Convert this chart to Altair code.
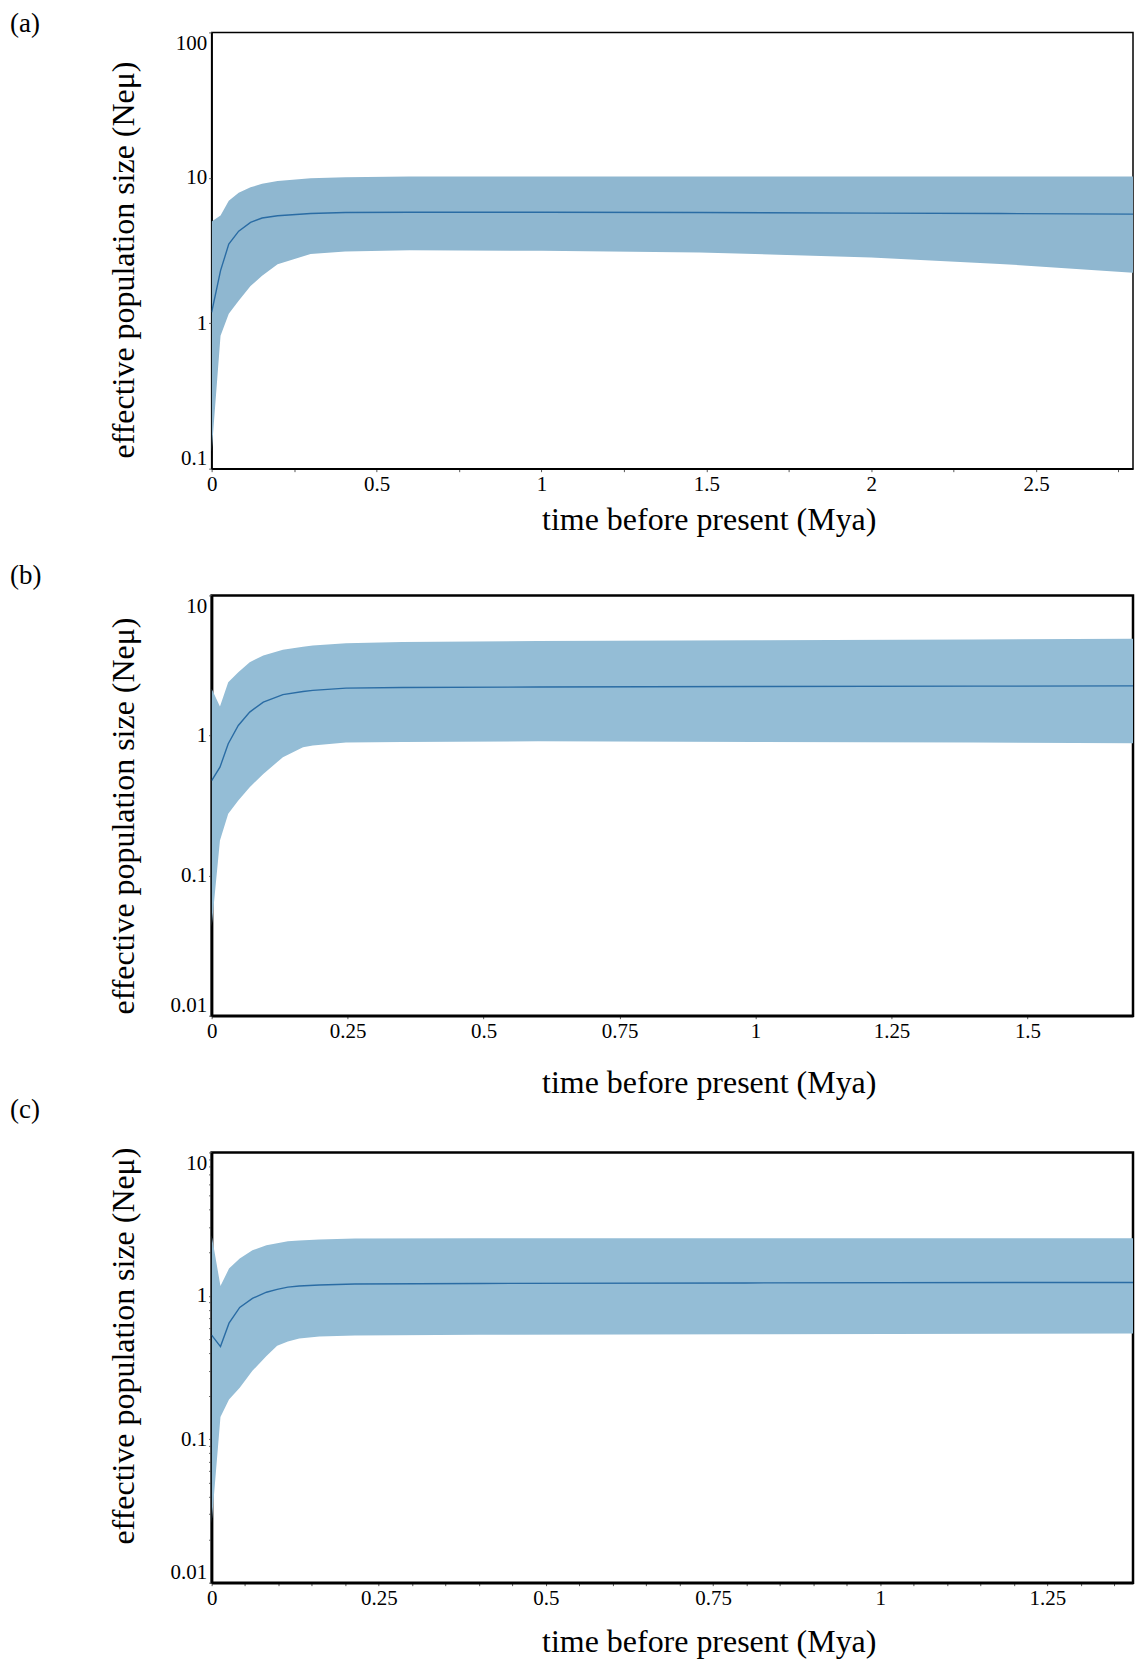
import altair as alt
import pandas as pd

FONT = "Liberation Serif"
X_TITLE = "time before present (Mya)"
Y_TITLE = "effective population size (Neμ)"

# ---------------- panel (a) ----------------
a_time = [0, 0.027, 0.052, 0.082, 0.118, 0.153, 0.2, 0.3, 0.405, 0.6, 1.0, 1.48, 2.0, 2.39, 2.82]
a_upper = [5.0, 5.5, 6.95, 7.9, 8.6, 9.1, 9.5, 9.95, 10.1, 10.2, 10.2, 10.2, 10.2, 10.2, 10.2]
a_median = [1.19, 2.3, 3.5, 4.3, 4.94, 5.29, 5.49, 5.69, 5.78, 5.8, 5.8, 5.78, 5.72, 5.68, 5.63]
a_lower = [0.13, 0.82, 1.16, 1.43, 1.8, 2.12, 2.55, 2.99, 3.12, 3.18, 3.15, 3.07, 2.83, 2.56, 2.2]
a_xticks = [0, 0.25, 0.5, 0.75, 1, 1.25, 1.5, 1.75, 2, 2.25, 2.5, 2.75]
a_yticks = [0.1, 1, 10, 100]
a_ylabels = [0.1, 1, 10, 100]

# ---------------- panel (b) ----------------
b_time = [0, 0.0153, 0.0305, 0.049, 0.07, 0.095, 0.131, 0.168, 0.186, 0.247, 0.35, 0.6, 1.0, 1.4, 1.714]
b_upper = [2.16, 1.61, 2.40, 2.83, 3.34, 3.73, 4.09, 4.3, 4.39, 4.56, 4.65, 4.72, 4.78, 4.85, 4.9]
b_median = [0.477, 0.594, 0.873, 1.18, 1.47, 1.73, 1.96, 2.06, 2.10, 2.18, 2.2, 2.22, 2.24, 2.25, 2.26]
b_lower = [0.043, 0.178, 0.276, 0.343, 0.428, 0.532, 0.70, 0.826, 0.85, 0.89, 0.9, 0.91, 0.9, 0.89, 0.88]
b_xticks = [0, 0.25, 0.5, 0.75, 1, 1.25, 1.5]
b_yticks = [0.01, 0.1, 1, 10]
b_ylabels = [0.01, 0.1, 1, 10]

# ---------------- panel (c) ----------------
c_time = [0, 0.0132, 0.026, 0.042, 0.061, 0.082, 0.098, 0.114, 0.131, 0.161, 0.214, 0.4, 0.8, 1.2, 1.392]
c_upper = [2.65, 1.17, 1.55, 1.82, 2.08, 2.25, 2.33, 2.40, 2.43, 2.47, 2.51, 2.52, 2.52, 2.52, 2.52]
c_median = [0.532, 0.443, 0.645, 0.83, 0.96, 1.06, 1.11, 1.15, 1.17, 1.19, 1.21, 1.22, 1.23, 1.24, 1.24]
c_lower = [0.026, 0.143, 0.189, 0.229, 0.30, 0.38, 0.448, 0.48, 0.504, 0.52, 0.53, 0.535, 0.54, 0.545, 0.547]
c_xticks = [0, 0.05, 0.1, 0.15, 0.2, 0.25, 0.3, 0.35, 0.4, 0.45, 0.5, 0.55, 0.6, 0.65,
            0.7, 0.75, 0.8, 0.85, 0.9, 0.95, 1, 1.05, 1.1, 1.15, 1.2, 1.25, 1.3, 1.35]
c_yticks = [0.01, 0.02, 0.03, 0.04, 0.05, 0.06, 0.07, 0.08, 0.09,
            0.1, 0.2, 0.3, 0.4, 0.5, 0.6, 0.7, 0.8, 0.9,
            1, 2, 3, 4, 5, 6, 7, 8, 9, 10]
c_ylabels = [0.01, 0.1, 1, 10]

PLOT_W = 923


def panel(label, t, lo, med, hi, xmax, xticks, label_step, ydom, yticks, ylabels, h,
          fill, border, ytitle_shift, xtitle_y, label_y):
    df = pd.DataFrame({"t": t, "lower": lo, "median": med, "upper": hi})
    xscale = alt.Scale(domain=[0, xmax], nice=False, zero=False)
    yscale = alt.Scale(type="log", domain=ydom, nice=False)
    k = 1.0 / label_step
    xaxis = alt.Axis(
        values=xticks,
        labelExpr=f"abs(datum.value*{k} - round(datum.value*{k})) < 0.001 ? format(datum.value, '.3~g') : ''",
        title=X_TITLE, labelFlush=False,
        grid=False, domainColor="black", domainWidth=border,
        tickSize=3, tickColor="#555", labelPadding=2,
        labelFont=FONT, labelFontSize=21, labelColor="black",
        titleFont=FONT, titleFontSize=32, titleFontWeight="normal",
        titleColor="black", titleX=498, titleY=xtitle_y,
        titleAlign="center", titleBaseline="middle",
    )
    lab_list = "[" + ",".join(str(v) for v in ylabels) + "]"
    yaxis = alt.Axis(
        values=yticks,
        labelExpr=f"indexof({lab_list}, datum.value) >= 0 ? format(datum.value, '.3~g') : ''",
        title=Y_TITLE, labelFlush=True,
        grid=False, domainColor="black", domainWidth=border,
        tickSize=3, tickColor="#555", labelPadding=2,
        labelFont=FONT, labelFontSize=21, labelColor="black",
        titleFont=FONT, titleFontSize=32, titleFontWeight="normal",
        titleColor="black", titleX=-88, titleY=h / 2 + ytitle_shift,
        titleAngle=-90, titleAlign="center", titleBaseline="middle",
    )
    area = alt.Chart(df).mark_area(color=fill, opacity=1, clip=True).encode(
        x=alt.X("t:Q", scale=xscale, axis=xaxis),
        y=alt.Y("lower:Q", scale=yscale, axis=yaxis),
        y2="upper:Q",
    )
    line = alt.Chart(df).mark_line(color="#2a6ca4", strokeWidth=1.4, clip=True).encode(
        x=alt.X("t:Q", scale=xscale, axis=xaxis),
        y=alt.Y("median:Q", scale=yscale, axis=yaxis),
    )
    lbl = alt.Chart(alt.Data(values=[{"label": label}])).mark_text(
        align="left", baseline="middle", font=FONT, fontSize=27, color="black"
    ).encode(
        x=alt.value(-202), y=alt.value(label_y), text="label:N"
    )
    return alt.layer(area, line, lbl).properties(
        width=PLOT_W, height=h,
        view=alt.ViewBackground(stroke="black", strokeWidth=border),
    )


pa = panel("(a)", a_time, a_lower, a_median, a_upper, 2.794, a_xticks, 0.5,
           [0.1, 100], a_yticks, a_ylabels, 437, "#8fb7d0", 1.5, 9, 51, -8)
pb = panel("(b)", b_time, b_lower, b_median, b_upper, 1.694, b_xticks, 0.25,
           [0.01, 10], b_yticks, b_ylabels, 421, "#94bdd6", 2.5, 10, 67, -19)
pc = panel("(c)", c_time, c_lower, c_median, c_upper, 1.378, c_xticks, 0.25,
           [0.01, 10], c_yticks, c_ylabels, 431, "#94bdd6", 2.5, -22, 59, -42)

chart = alt.vconcat(
    alt.vconcat(pa, pb, spacing=24),
    pc,
    spacing=-6,
).properties(
    padding={"top": 0, "left": 0, "right": 0, "bottom": 0},
    background="white",
)

chart.save("out.html", embed_options={"renderer": "svg", "actions": False})
